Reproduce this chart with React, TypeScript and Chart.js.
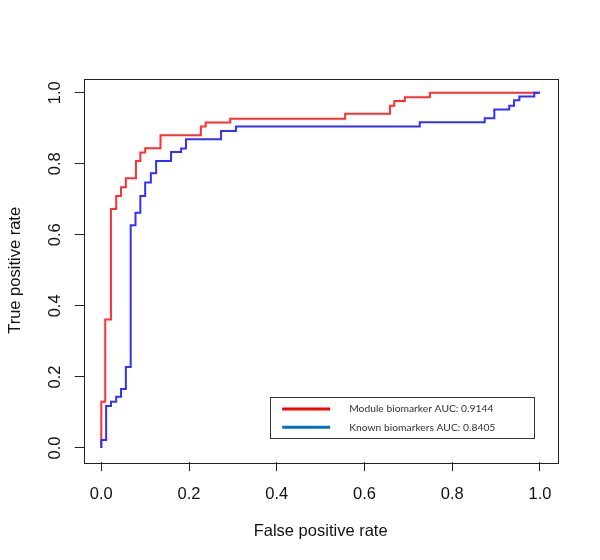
import React, { useEffect, useRef } from 'react';
import { Chart, registerables } from 'chart.js';

Chart.register(...registerables);

// ROC vertices (false positive rate, true positive rate)
const moduleFpr = [0, 0, 0.009, 0.009, 0.022, 0.022, 0.034, 0.034, 0.045, 0.045, 0.056, 0.056, 0.079, 0.079, 0.089, 0.089, 0.1, 0.1, 0.135, 0.135, 0.227, 0.227, 0.238, 0.238, 0.294, 0.294, 0.556, 0.556, 0.658, 0.658, 0.668, 0.668, 0.692, 0.692, 0.749, 0.749, 1.0];
const moduleTpr = [0, 0.13, 0.13, 0.362, 0.362, 0.673, 0.673, 0.709, 0.709, 0.734, 0.734, 0.759, 0.759, 0.808, 0.808, 0.832, 0.832, 0.844, 0.844, 0.88, 0.88, 0.905, 0.905, 0.916, 0.916, 0.927, 0.927, 0.941, 0.941, 0.963, 0.963, 0.977, 0.977, 0.987, 0.987, 1.0, 1.0];

const knownFpr = [0, 0, 0.011, 0.011, 0.022, 0.022, 0.034, 0.034, 0.045, 0.045, 0.056, 0.056, 0.067, 0.067, 0.078, 0.078, 0.089, 0.089, 0.1, 0.1, 0.113, 0.113, 0.125, 0.125, 0.159, 0.159, 0.182, 0.182, 0.193, 0.193, 0.273, 0.273, 0.307, 0.307, 0.726, 0.726, 0.874, 0.874, 0.896, 0.896, 0.93, 0.93, 0.941, 0.941, 0.953, 0.953, 0.987, 0.987, 1.0];
const knownTpr = [0, 0.0225, 0.0225, 0.118, 0.118, 0.13, 0.13, 0.144, 0.144, 0.166, 0.166, 0.228, 0.228, 0.627, 0.627, 0.662, 0.662, 0.709, 0.709, 0.747, 0.747, 0.773, 0.773, 0.808, 0.808, 0.833, 0.833, 0.843, 0.843, 0.869, 0.869, 0.892, 0.892, 0.905, 0.905, 0.917, 0.917, 0.928, 0.928, 0.953, 0.953, 0.963, 0.963, 0.979, 0.979, 0.989, 0.989, 1.0, 1.0];

const seriesLabels = ['Module biomarker AUC: 0.9144', 'Known biomarkers AUC: 0.8405'];
const curveColors = ['#FF3030', '#3030FF'];
const legendColors = ['#FF0000', '#0070C0'];
const tickValues = [0, 0.2, 0.4, 0.6, 0.8, 1.0];
const xTitle = 'False positive rate';
const yTitle = 'True positive rate';

const toPoints = (xs: number[], ys: number[]) => xs.map((x, i) => ({ x, y: ys[i] }));

const axisFont = { family: '"Liberation Sans", Arial, sans-serif', size: 16.5 };

const boxPlugin = {
  id: 'rBoxLegend',
  afterDraw(chart: any) {
    const { ctx, chartArea: a, scales } = chart;
    ctx.save();
    ctx.strokeStyle = '#222';
    ctx.lineWidth = 1;
    ctx.strokeRect(Math.round(a.left) + 0.5, Math.round(a.top) + 0.5, Math.round(a.right - a.left), Math.round(a.bottom - a.top));

    // legend box (drawn in data space)
    const lx = scales.x.getPixelForValue(0.385);
    const rx = scales.x.getPixelForValue(0.986);
    const ty = scales.y.getPixelForValue(0.143);
    const by = scales.y.getPixelForValue(0.027);
    ctx.strokeStyle = '#333';
    ctx.lineWidth = 1;
    ctx.strokeRect(Math.round(lx) + 0.5, Math.round(ty) + 0.5, Math.round(rx - lx), Math.round(by - ty));
    const rows = [ty + 11.7, ty + 30];
    ctx.font = '10.3px Lato, "Open Sans", sans-serif';
    ctx.textBaseline = 'middle';
    ctx.textAlign = 'left';
    seriesLabels.forEach((lab, i) => {
      ctx.strokeStyle = legendColors[i];
      ctx.lineWidth = 3;
      ctx.beginPath();
      ctx.moveTo(lx + 12, rows[i]);
      ctx.lineTo(lx + 60, rows[i]);
      ctx.stroke();
      ctx.fillStyle = '#303030';
      ctx.fillText(lab, lx + 79, rows[i]);
    });
    ctx.restore();
  },
};

function RocChart() {
  const ref = useRef<HTMLCanvasElement | null>(null);
  useEffect(() => {
    if (!ref.current) return;
    const chart = new Chart(ref.current, {
      type: 'scatter',
      data: {
        datasets: [
          {
            label: seriesLabels[1],
            data: toPoints(knownFpr, knownTpr),
            showLine: true,
            borderColor: curveColors[1],
            backgroundColor: curveColors[1],
            borderWidth: 2,
            pointRadius: 0,
            tension: 0,
            fill: false,
          },
          {
            label: seriesLabels[0],
            data: toPoints(moduleFpr, moduleTpr),
            showLine: true,
            borderColor: curveColors[0],
            backgroundColor: curveColors[0],
            borderWidth: 2,
            pointRadius: 0,
            tension: 0,
            fill: false,
          },
        ],
      },
      options: {
        animation: false,
        responsive: true,
        maintainAspectRatio: false,
        layout: { padding: { top: 78.5, right: 42.5, left: 0, bottom: 0 } },
        plugins: { legend: { display: false }, tooltip: { enabled: false }, title: { display: false } },
        scales: {
          x: {
            type: 'linear',
            min: -0.04,
            max: 1.04,
            afterBuildTicks: (s: any) => { s.ticks = tickValues.map((v) => ({ value: v })); },
            afterFit: (s: any) => { s.height = 97.8; },
            grid: { drawOnChartArea: false, drawTicks: true, tickLength: 9, tickColor: '#222', tickWidth: 1 },
            border: { display: false },
            ticks: { autoSkip: false, maxRotation: 0, minRotation: 0, padding: 13, color: '#111', font: axisFont, callback: (v: any) => Number(v).toFixed(1) },
            title: { display: true, text: xTitle, color: '#111', font: axisFont, padding: { top: 0, bottom: 18.6 } },
          },
          y: {
            type: 'linear',
            min: -0.04,
            max: 1.04,
            afterBuildTicks: (s: any) => { s.ticks = tickValues.map((v) => ({ value: v })); },
            afterFit: (s: any) => { s.width = 83.75; },
            grid: { drawOnChartArea: false, drawTicks: true, tickLength: 9, tickColor: '#222', tickWidth: 1 },
            border: { display: false },
            ticks: { autoSkip: false, minRotation: 90, maxRotation: 90, crossAlign: 'center', padding: 8.25, color: '#111', font: axisFont, callback: (v: any) => Number(v).toFixed(1) },
            title: { display: true, text: yTitle, color: '#111', font: axisFont, padding: { top: 5.2, bottom: 0 } },
          },
        },
      },
      plugins: [boxPlugin],
    } as any);
    return () => chart.destroy();
  }, []);
  return <canvas ref={ref} />;
}

export default function App() {
  return (
    <div style={{ position: 'fixed', left: 0, top: 0, width: 600, height: 560, background: '#fff' }}>
      <RocChart />
    </div>
  );
}
